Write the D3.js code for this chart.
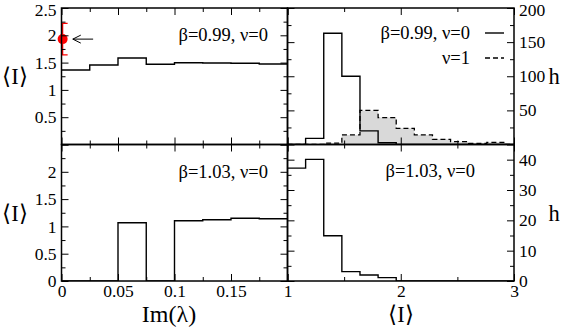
<!DOCTYPE html>
<html><head><meta charset="utf-8">
<script src="https://cdn.jsdelivr.net/npm/d3@7"></script>
<style>
body{margin:0;background:#fff}
svg{display:block}
</style>
</head><body><svg id="c" width="564" height="327" font-family="'Liberation Serif', 'Times New Roman', Times, serif"></svg>
<script>
// ---------- data ----------
const imBinStarts = [0, 0.025, 0.05, 0.075, 0.1, 0.125, 0.15, 0.175];
const imBinWidth = 0.025;
const meanI_b099 = [1.364, 1.456, 1.584, 1.469, 1.498, 1.493, 1.487, 1.474];
const meanI_b103 = [0, 0, 1.068, 0, 1.104, 1.123, 1.148, 1.141];

const markerX = [0.001];
const markerY = [1.93];
const markerLo = [1.64];
const markerHi = [2.22];
const arrowFromX = [0.028];
const arrowToX = [0.010];

const hBinStarts = [1.00, 1.16, 1.32, 1.48, 1.64, 1.80, 1.96, 2.12, 2.28, 2.44, 2.60, 2.76, 2.92];
const hBinWidth = 0.16;
const h_b099_nu0 = [0, 9, 163, 100, 20, 2.6, 0, 0, 0, 0, 0, 0, 0];
const h_b099_nu1 = [0, 0, 2, 14, 50, 39.5, 23.7, 14, 7.6, 4.1, 1.7, 3.2, 0];
const h_b103_nu0 = [37.2, 40.1, 14.9, 3.1, 2.0, 1.1, 0, 0, 0, 0, 0, 0, 0];

const xTicksImMajor = [0, 0.05, 0.1, 0.15, 0.2];
const xTicksImMinor = [0.025, 0.075, 0.125, 0.175];
const xLabelsIm = [0, 0.05, 0.1, 0.15];
const xTicksIMajor = [1, 2, 3];
const xTicksIMinor = [1.5, 2.5];
const yTicksLeftMajor = [0, 0.5, 1, 1.5, 2, 2.5];
const yTicksLeftMinor = [0.25, 0.75, 1.25, 1.75, 2.25];
const yLabelsTopLeft = [0.5, 1, 1.5, 2, 2.5];
const yLabelsBottomLeft = [0, 0.5, 1, 1.5, 2];
const yTicksTRMajor = [0, 50, 100, 150, 200];
const yTicksTRMinor = [25, 75, 125, 175];
const yLabelsTR = [50, 100, 150, 200];
const yTicksBRMajor = [0, 10, 20, 30, 40];
const yTicksBRMinor = [5, 15, 25, 35];
const yLabelsBR = [0, 10, 20, 30, 40];

// ---------- layout ----------
const FONT = "'Liberation Serif', 'Times New Roman', Times, serif";
const svg = d3.select("#c");
const L = {x0: 61.5, x1: 287.5}, R = {x0: 287.5, x1: 514};
const T = {y0: 8, y1: 144.5}, B = {y0: 144.5, y1: 281};
const FS = 17.5;   // tick labels
const AS = 18.5;   // in-panel annotations
const TS = 22.5;   // axis titles

const xIm = d3.scaleLinear([0, 0.2], [L.x0, L.x1]);
const xI = d3.scaleLinear([1, 3], [R.x0, R.x1]);
const yTL = d3.scaleLinear([0, 2.5], [T.y1, T.y0]);
const yBL = d3.scaleLinear([0, 2.5], [B.y1, B.y0]);
const yTR = d3.scaleLinear([0, 200], [T.y1, T.y0]);
const yBR = d3.scaleLinear([0, 45], [B.y1, B.y0]);

const defs = svg.append("defs");
function clip(id, xs, ys) {
  defs.append("clipPath").attr("id", id).append("rect")
    .attr("x", xs.range()[0]).attr("y", ys.range()[1])
    .attr("width", xs.range()[1] - xs.range()[0]).attr("height", ys.range()[0] - ys.range()[1]);
  return "url(#" + id + ")";
}

function stepPoints(starts, width, vals) {
  const pts = starts.map((s, i) => [s, vals[i]]);
  pts.push([starts[starts.length - 1] + width, vals[vals.length - 1]]);
  return pts;
}

function txt(x, y, s, size, anchor) {
  return svg.append("text").attr("x", x).attr("y", y).attr("dy", "0.35em")
    .attr("text-anchor", anchor || "middle")
    .style("font-family", FONT).style("font-size", size + "px").attr("fill", "#000").text(s);
}

function axisTicks(g, side, scale, major, minor, labels, fmt) {
  const mk = {left: d3.axisLeft, right: d3.axisRight, top: d3.axisTop, bottom: d3.axisBottom}[side];
  const gMinor = g.append("g").call(mk(scale).tickValues(minor).tickSize(-4).tickFormat(""));
  const gMajor = g.append("g").call(mk(scale).tickValues(major).tickSize(-7)
      .tickPadding(side === "bottom" ? 4 : 5)
      .tickFormat(d => (labels && labels.includes(d)) ? fmt(d) : ""));
  [gMinor, gMajor].forEach(gg => {
    gg.select(".domain").remove();
    gg.selectAll("line").attr("stroke", "#000").attr("stroke-width", 1);
    gg.attr("font-family", FONT).attr("font-size", FS);
    gg.selectAll("text").style("font-family", FONT).style("font-size", FS + "px").attr("fill", "#000");
  });
  // keep the topmost label inside the picture
  if (side === "left" || side === "right") {
    gMajor.selectAll(".tick text").filter(d => scale(d) < 10).attr("dy", "0.45em");
  }
  return gMajor;
}

function frame(xs, ys) {
  svg.append("rect").attr("x", xs.range()[0]).attr("y", ys.range()[1])
    .attr("width", xs.range()[1] - xs.range()[0]).attr("height", ys.range()[0] - ys.range()[1])
    .attr("fill", "none").attr("stroke", "#000").attr("stroke-width", 1.5);
}

const fmt = d => String(d);

// ---------- top-left ----------
{
  const cp = clip("cTL", xIm, yTL);
  const line = d3.line().x(d => xIm(d[0])).y(d => yTL(d[1])).curve(d3.curveStepAfter);
  svg.append("path").attr("clip-path", cp).attr("d", line(stepPoints(imBinStarts, imBinWidth, meanI_b099)))
    .attr("fill", "none").attr("stroke", "#000").attr("stroke-width", 1.4);
  const eb = svg.append("g").attr("clip-path", cp).attr("stroke", "#f00").attr("stroke-width", 1.3);
  markerX.forEach((x, i) => {
    eb.append("line").attr("x1", xIm(x)).attr("x2", xIm(x)).attr("y1", yTL(markerLo[i])).attr("y2", yTL(markerHi[i]));
    [markerLo[i], markerHi[i]].forEach(v => eb.append("line").attr("x1", xIm(x) - 5).attr("x2", xIm(x) + 5)
      .attr("y1", yTL(v)).attr("y2", yTL(v)));
  });
  arrowFromX.forEach((x, i) => {
    const y = yTL(markerY[i]), x1 = xIm(x), x2 = xIm(arrowToX[i]);
    const ag = svg.append("g").attr("stroke", "#000").attr("stroke-width", 1).attr("fill", "none");
    ag.append("line").attr("x1", x1).attr("x2", x2).attr("y1", y).attr("y2", y);
    ag.append("path").attr("d", `M${x2 + 8},${y - 4}L${x2},${y}L${x2 + 8},${y + 4}`);
  });
  svg.selectAll(null).data(markerX).enter().append("circle")
    .attr("cx", d => xIm(d)).attr("cy", (d, i) => yTL(markerY[i])).attr("r", 5).attr("fill", "#f00");
  const g = svg.append("g");
  axisTicks(g.append("g").attr("transform", `translate(${L.x0},0)`), "left", yTL, yTicksLeftMajor, yTicksLeftMinor, yLabelsTopLeft, fmt);
  axisTicks(g.append("g").attr("transform", `translate(${L.x1},0)`), "right", yTL, yTicksLeftMajor, yTicksLeftMinor, null, fmt);
  axisTicks(g.append("g").attr("transform", `translate(0,${T.y0})`), "top", xIm, xTicksImMajor, xTicksImMinor, null, fmt);
  axisTicks(g.append("g").attr("transform", `translate(0,${T.y1})`), "bottom", xIm, xTicksImMajor, xTicksImMinor, null, fmt);
  frame(xIm, yTL);
  txt(268, 35, "β=0.99, ν=0", AS, "end");
}

// ---------- bottom-left ----------
{
  const cp = clip("cBL", xIm, yBL);
  const line = d3.line().x(d => xIm(d[0])).y(d => yBL(d[1])).curve(d3.curveStepAfter);
  svg.append("path").attr("clip-path", cp).attr("d", line(stepPoints(imBinStarts, imBinWidth, meanI_b103)))
    .attr("fill", "none").attr("stroke", "#000").attr("stroke-width", 1.4);
  const g = svg.append("g");
  axisTicks(g.append("g").attr("transform", `translate(${L.x0},0)`), "left", yBL, yTicksLeftMajor, yTicksLeftMinor, yLabelsBottomLeft, fmt);
  axisTicks(g.append("g").attr("transform", `translate(${L.x1},0)`), "right", yBL, yTicksLeftMajor, yTicksLeftMinor, null, fmt);
  axisTicks(g.append("g").attr("transform", `translate(0,${B.y0})`), "top", xIm, xTicksImMajor, xTicksImMinor, null, fmt);
  axisTicks(g.append("g").attr("transform", `translate(0,${B.y1})`), "bottom", xIm, xTicksImMajor, xTicksImMinor, xLabelsIm, fmt);
  frame(xIm, yBL);
  txt(268, 171.5, "β=1.03, ν=0", AS, "end");
}

// ---------- top-right ----------
{
  const cp = clip("cTR", xI, yTR);
  const area = d3.area().x(d => xI(d[0])).y0(yTR(0)).y1(d => yTR(d[1])).curve(d3.curveStepAfter);
  const line = d3.line().x(d => xI(d[0])).y(d => yTR(d[1])).curve(d3.curveStepAfter);
  svg.append("path").attr("clip-path", cp).attr("d", area(stepPoints(hBinStarts, hBinWidth, h_b099_nu1)))
    .attr("fill", "#d9d9d9").attr("stroke", "none");
  svg.append("path").attr("clip-path", cp).attr("d", line(stepPoints(hBinStarts, hBinWidth, h_b099_nu1)))
    .attr("fill", "none").attr("stroke", "#000").attr("stroke-width", 1.3).attr("stroke-dasharray", "5,3");
  svg.append("path").attr("clip-path", cp).attr("d", line(stepPoints(hBinStarts, hBinWidth, h_b099_nu0)))
    .attr("fill", "none").attr("stroke", "#000").attr("stroke-width", 1.4);
  const g = svg.append("g");
  axisTicks(g.append("g").attr("transform", `translate(${R.x0},0)`), "left", yTR, yTicksTRMajor, yTicksTRMinor, null, fmt);
  axisTicks(g.append("g").attr("transform", `translate(${R.x1},0)`), "right", yTR, yTicksTRMajor, yTicksTRMinor, yLabelsTR, fmt);
  axisTicks(g.append("g").attr("transform", `translate(0,${T.y0})`), "top", xI, xTicksIMajor, xTicksIMinor, null, fmt);
  axisTicks(g.append("g").attr("transform", `translate(0,${T.y1})`), "bottom", xI, xTicksIMajor, xTicksIMinor, null, fmt);
  frame(xI, yTR);
  txt(470, 33, "β=0.99, ν=0", AS, "end");
  svg.append("line").attr("x1", 485).attr("x2", 504).attr("y1", 33).attr("y2", 33).attr("stroke", "#000").attr("stroke-width", 1.4);
  txt(470, 58, "ν=1", AS, "end");
  svg.append("line").attr("x1", 485).attr("x2", 504).attr("y1", 58).attr("y2", 58).attr("stroke", "#000")
    .attr("stroke-width", 1.3).attr("stroke-dasharray", "5,3");
}

// ---------- bottom-right ----------
{
  const cp = clip("cBR", xI, yBR);
  const line = d3.line().x(d => xI(d[0])).y(d => yBR(d[1])).curve(d3.curveStepAfter);
  svg.append("path").attr("clip-path", cp).attr("d", line(stepPoints(hBinStarts, hBinWidth, h_b103_nu0)))
    .attr("fill", "none").attr("stroke", "#000").attr("stroke-width", 1.4);
  const g = svg.append("g");
  axisTicks(g.append("g").attr("transform", `translate(${R.x0},0)`), "left", yBR, yTicksBRMajor, yTicksBRMinor, null, fmt);
  axisTicks(g.append("g").attr("transform", `translate(${R.x1},0)`), "right", yBR, yTicksBRMajor, yTicksBRMinor, yLabelsBR, fmt);
  axisTicks(g.append("g").attr("transform", `translate(0,${B.y0})`), "top", xI, xTicksIMajor, xTicksIMinor, null, fmt);
  axisTicks(g.append("g").attr("transform", `translate(0,${B.y1})`), "bottom", xI, xTicksIMajor, xTicksIMinor, xTicksIMajor, fmt);
  frame(xI, yBR);
  txt(475, 170.5, "β=1.03, ν=0", AS, "end");
}

// ---------- axis titles ----------
txt(15, 76, "⟨I⟩", TS);
txt(15, 213, "⟨I⟩", TS);
txt(169, 314, "Im(λ)", 24);
txt(401, 314, "⟨I⟩", TS);
txt(554, 76, "h", TS);
txt(554, 213, "h", TS);
</script>
</body></html>
